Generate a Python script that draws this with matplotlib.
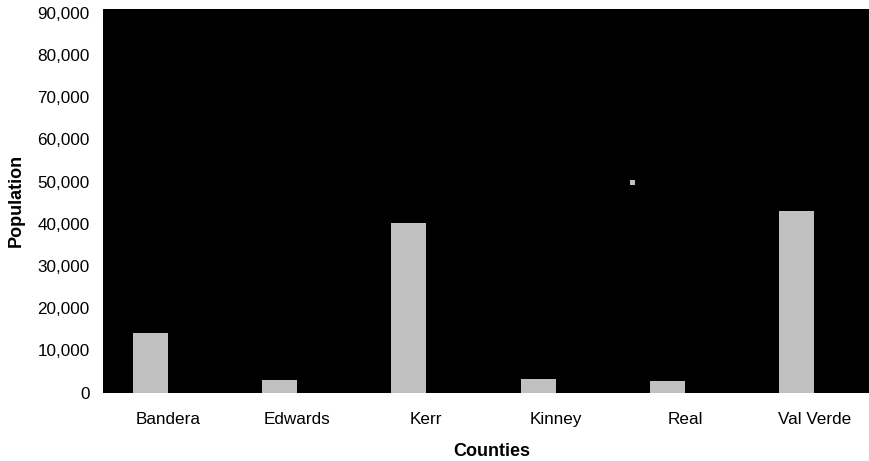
import numpy as np
import matplotlib.pyplot as plt
from matplotlib.ticker import FuncFormatter

plt.rcParams['font.family'] = ['Liberation Sans', 'DejaVu Sans']

counties = ['Bandera', 'Edwards', 'Kerr', 'Kinney', 'Real', 'Val Verde']
population = [14200, 2850, 40300, 3300, 2800, 43100]

# stray point drawn in the plot area
marker_x = [3.59]
marker_y = [50000]

fig = plt.figure(figsize=(8.7, 4.61), dpi=100)
ax = fig.add_axes([103 / 870, (461 - 392.5) / 461, 776 / 870, 383 / 461])
ax.set_facecolor('black')

x = np.arange(len(counties))
ax.bar(x, population, width=-0.27, align='edge', color='#c0c0c0')
ax.plot(marker_x, marker_y, 's', color='#c0c0c0', ms=3.6, mew=0)

ax.set_xlim(-0.5, 5.5)
ax.set_ylim(0, 90800)
ax.set_yticks(np.arange(0, 90001, 10000))
ax.yaxis.set_major_formatter(FuncFormatter(lambda v, p: f'{int(v):,}'))
ax.set_xticks(x)
ax.set_xticklabels(counties)

for s in ax.spines.values():
    s.set_visible(False)
ax.tick_params(axis='both', length=0, labelsize=12.3, colors='black')
ax.tick_params(axis='y', pad=9.5)
ax.tick_params(axis='x', pad=14)

ax.set_xlabel('Counties', fontsize=13, fontweight='bold', va='center')
ax.set_ylabel('Population', fontsize=13, fontweight='bold', va='center')
ax.xaxis.set_label_coords((492 - 103) / 776, -(451 - 392.5) / 383)
ax.yaxis.set_label_coords(-(103 - 16) / 776, (392.5 - 200) / 383)

fig.savefig('out.png', dpi=100)
